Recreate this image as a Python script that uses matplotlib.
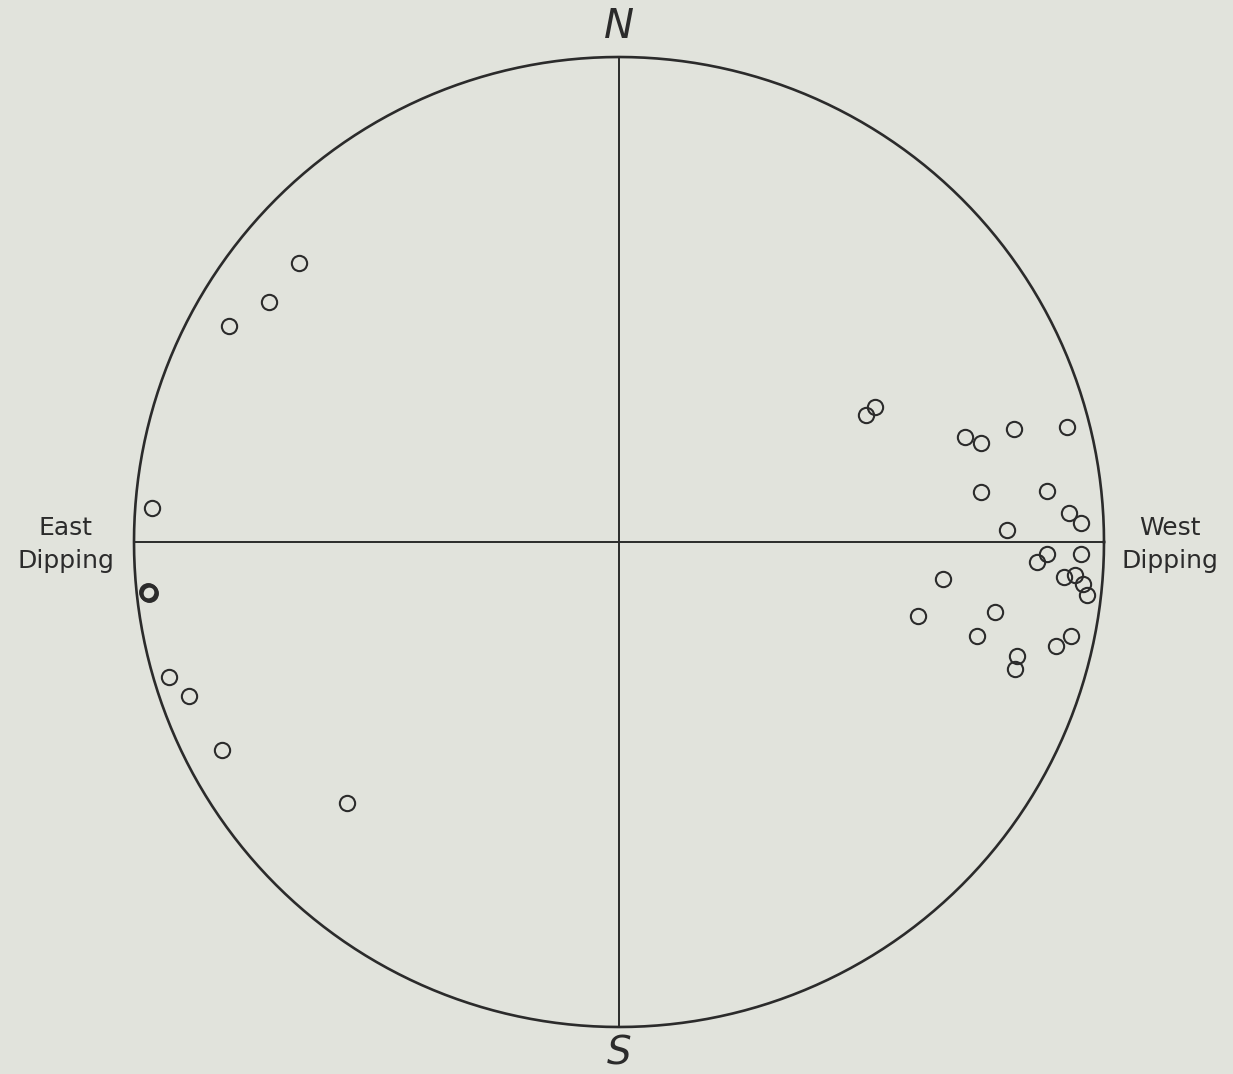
import numpy as np
import matplotlib
matplotlib.use("Agg")
import matplotlib.pyplot as plt

# Poles (normalized coordinates in the unit net circle; x to the west/right, y north/up)
west_x = [0.509, 0.528, 0.713, 0.746, 0.814, 0.924, 0.746, 0.882, 0.928, 0.953,
          0.800, 0.862, 0.882, 0.953, 0.918, 0.940, 0.957, 0.965, 0.668, 0.616,
          0.775, 0.738, 0.821, 0.816, 0.901, 0.932]
west_y = [0.262, 0.278, 0.216, 0.204, 0.233, 0.237, 0.103, 0.105, 0.060, 0.039,
          0.025, -0.041, -0.025, -0.025, -0.072, -0.068, -0.087, -0.109, -0.076, -0.153,
          -0.144, -0.194, -0.235, -0.262, -0.214, -0.194]
east_x = [-0.660, -0.722, -0.804, -0.963, -0.969, -0.928, -0.887, -0.819, -0.561]
east_y = [0.575, 0.495, 0.445, 0.070, -0.105, -0.278, -0.318, -0.429, -0.538]
# repeated pole plotted over itself (drawn heavier in the original)
east_double_x = [-0.969, -0.971]
east_double_y = [-0.105, -0.103]

labels = {"N": "N", "S": "S", "left": "East\nDipping", "right": "West\nDipping"}

W, H, dpi = 1233, 1074, 100
cx, cy, R = 619, 542, 485
bg = "#e1e3dc"
ink = "#2b2b2b"

fig = plt.figure(figsize=(W / dpi, H / dpi), dpi=dpi, facecolor=bg)
ax = fig.add_axes([0, 0, 1, 1], facecolor=bg)
ax.set_xlim((0 - cx) / R, (W - cx) / R)
ax.set_ylim((cy - H) / R, (cy - 0) / R)
ax.set_aspect("equal")
ax.axis("off")

t = np.linspace(0, 2 * np.pi, 721)
ax.plot(np.cos(t), np.sin(t), color=ink, lw=1.9)
ax.plot([-1, 1], [0, 0], color=ink, lw=1.4)
ax.plot([0, 0], [-1, 1], color=ink, lw=1.4)

ax.plot(west_x, west_y, "o", ms=11, mfc="none", mec=ink, mew=1.5)
ax.plot(east_x, east_y, "o", ms=11, mfc="none", mec=ink, mew=1.5)
ax.plot(east_double_x, east_double_y, "o", ms=11, mfc="none", mec=ink, mew=2.6)

ax.text(0, 1.062, labels["N"], ha="center", va="center", fontsize=29,
        style="italic", color=ink, fontweight="light")
ax.text(0, -1.055, labels["S"], ha="center", va="center", fontsize=28,
        style="italic", color=ink, fontweight="light")
ax.text(-1.141, -0.005, labels["left"], ha="center", va="center", fontsize=18,
        color=ink, linespacing=1.5)
ax.text(1.136, -0.005, labels["right"], ha="center", va="center", fontsize=18,
        color=ink, linespacing=1.5)

fig.savefig("out.png", dpi=dpi, facecolor=bg)
